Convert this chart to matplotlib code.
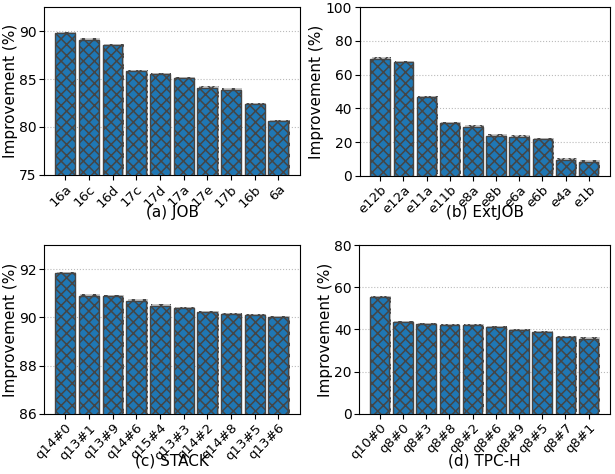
import matplotlib.pyplot as plt
import matplotlib.patheffects as pe

# data
job_names = ["16a", "16c", "16d", "17c", "17d", "17a", "17e", "17b", "16b", "6a"]
job_vals = [89.8, 89.1, 88.5, 85.8, 85.5, 85.1, 84.1, 83.9, 82.4, 80.6]

ext_names = ["e12b", "e12a", "e11a", "e11b", "e8a", "e8b", "e6a", "e6b", "e4a", "e1b"]
ext_vals = [69.5, 67.3, 46.6, 31.1, 29.2, 23.9, 23.3, 21.7, 9.6, 8.5]

stack_names = ["q14#0", "q13#1", "q13#9", "q14#6", "q15#4", "q13#3", "q14#2", "q14#8", "q13#5", "q13#6"]
stack_vals = [91.83, 90.9, 90.88, 90.7, 90.48, 90.38, 90.22, 90.12, 90.08, 90.02]

tpch_names = ["q10#0", "q8#0", "q8#3", "q8#8", "q8#2", "q8#6", "q8#9", "q8#5", "q8#7", "q8#1"]
tpch_vals = [55.3, 43.5, 42.5, 42.1, 42.1, 41.2, 39.7, 38.8, 36.4, 35.6]

plt.rcParams['hatch.linewidth'] = 1.1
plt.rcParams['hatch.color'] = '#454545'

fig = plt.figure(figsize=(6.15, 4.74), dpi=100)

# (names, values, ylim, yticks, caption, axes rect, caption y, ylabel x) -- last two in axes coords
panels = [
    (job_names, job_vals, (75, 92.5), [75, 80, 85, 90], "(a) JOB", [0.072, 0.631, 0.416, 0.354], -0.226, -0.102),
    (ext_names, ext_vals, (0, 100), [0, 20, 40, 60, 80, 100], "(b) ExtJOB", [0.585, 0.629, 0.407, 0.356], -0.215, -0.142),
    (stack_names, stack_vals, (86, 93), [86, 88, 90, 92], "(c) STACK", [0.072, 0.127, 0.416, 0.356], -0.28, -0.102),
    (tpch_names, tpch_vals, (0, 80), [0, 20, 40, 60, 80], "(d) TPC-H", [0.584, 0.127, 0.408, 0.356], -0.28, -0.106),
]

for names, vals, ylim, yticks, title, pos, cap_y, lab_x in panels:
    ax = fig.add_axes(pos)
    bars = ax.bar(names, vals, width=0.84, color='#1f77b4', edgecolor='#454545',
                  linewidth=1.0, hatch='xxx', zorder=3)
    for b in bars:
        b.set_path_effects([pe.SimplePatchShadow(offset=(1, 1), shadow_rgbFace='#bbbbbb', alpha=0.8),
                            pe.Normal()])
    ax.set_ylim(*ylim)
    ax.set_yticks(yticks)
    ax.set_xlim(-0.88, len(names) - 0.08)
    ax.grid(axis='y', linestyle=':', color='#bbbbbb', linewidth=0.8, zorder=0)
    ax.set_ylabel("Improvement (%)", fontsize=11)
    ax.yaxis.set_label_coords(lab_x, 0.5)
    ax.tick_params(axis='y', labelsize=10, pad=2)
    ax.tick_params(axis='x', labelsize=9.5, pad=2)
    plt.setp(ax.get_xticklabels(), rotation=45, ha='right', rotation_mode='anchor')
    ax.text(0.5, cap_y, title, transform=ax.transAxes, ha='center', va='center', fontsize=11)

fig.savefig("out.png", dpi=100)
